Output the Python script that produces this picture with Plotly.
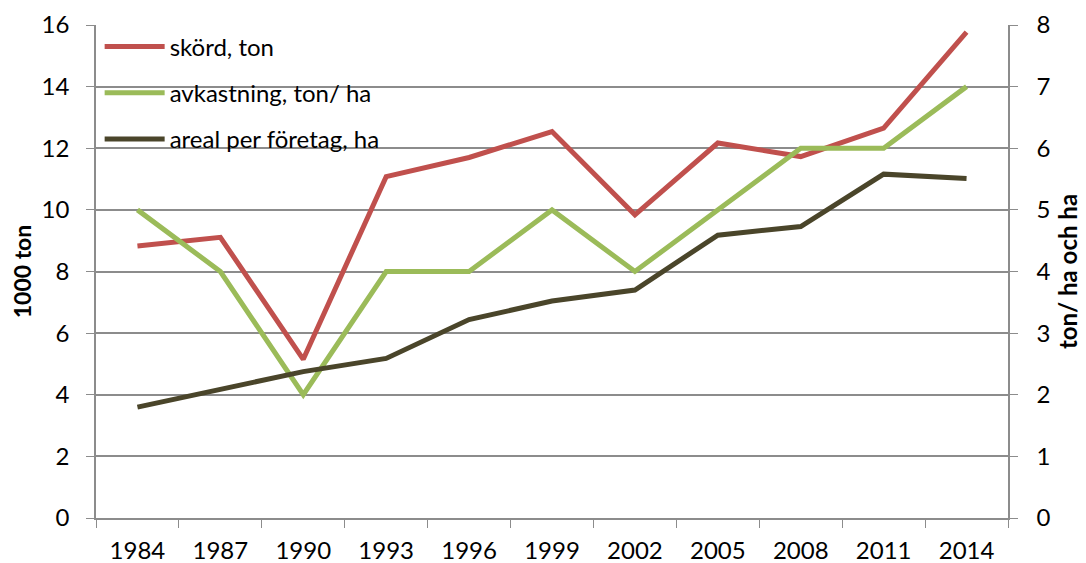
import plotly.graph_objects as go

years = ["1984", "1987", "1990", "1993", "1996", "1999", "2002", "2005", "2008", "2011", "2014"]
skord = [8.83, 9.11, 5.15, 11.08, 11.7, 12.54, 9.84, 12.17, 11.73, 12.65, 15.77]
avkastning = [5, 4, 2, 4, 4, 5, 4, 5, 6, 6, 7]
areal = [1.80, 2.09, 2.375, 2.59, 3.22, 3.52, 3.70, 4.59, 4.73, 5.58, 5.51]

FONT = "Lato"
GRID = "#8c8c8c"

fig = go.Figure()
fig.add_trace(go.Scatter(x=years, y=skord, name="skörd, ton", mode="lines",
                         line=dict(color="#C0504D", width=5), legendgroup="a", yaxis="y"))
fig.add_trace(go.Scatter(x=years, y=avkastning, name="avkastning, ton/ ha", mode="lines",
                         line=dict(color="#9BBB59", width=5), legendgroup="b", yaxis="y2"))
fig.add_trace(go.Scatter(x=years, y=areal, name="areal per företag, ha", mode="lines",
                         line=dict(color="#4A452A", width=5), legendgroup="c", yaxis="y2"))

fig.update_layout(
    width=1086, height=563,
    margin=dict(l=88, r=86, t=17, b=53),
    paper_bgcolor="white", plot_bgcolor="white",
    font=dict(family=FONT, size=24, color="black"),
    showlegend=True,
    legend=dict(x=0.004, y=1.001, xanchor="left", yanchor="top",
                bgcolor="rgba(0,0,0,0)", font=dict(size=24),
                traceorder="grouped", tracegroupgap=12, itemwidth=60),
    xaxis=dict(type="category", range=[-0.5, 10.5], tickson="boundaries",
               ticks="outside", ticklen=8, automargin=False,
               tickcolor=GRID, showline=True, linecolor=GRID, linewidth=1.5,
               showgrid=False, tickfont=dict(size=24), ticklabelstandoff=10),
    yaxis=dict(range=[0, 16], dtick=2, ticks="outside", ticklen=8, tickcolor=GRID,
               showline=True, linecolor=GRID, linewidth=1.5, automargin=False,
               showgrid=True, gridcolor=GRID, gridwidth=1.5, zeroline=False,
               title=dict(text="<b>1000 ton</b>", font=dict(size=23), standoff=12),
               tickfont=dict(size=24), ticklabelstandoff=12),
    yaxis2=dict(range=[0, 8], dtick=1, overlaying="y", side="right",
                ticks="outside", ticklen=8, tickcolor=GRID, automargin=False,
                showline=True, linecolor=GRID, linewidth=1.5,
                showgrid=False, zeroline=False,
                title=dict(text="<b>ton/ ha och ha</b>", font=dict(size=24), standoff=11),
                tickfont=dict(size=24), ticklabelstandoff=14),
)

fig.write_html("out.html")
